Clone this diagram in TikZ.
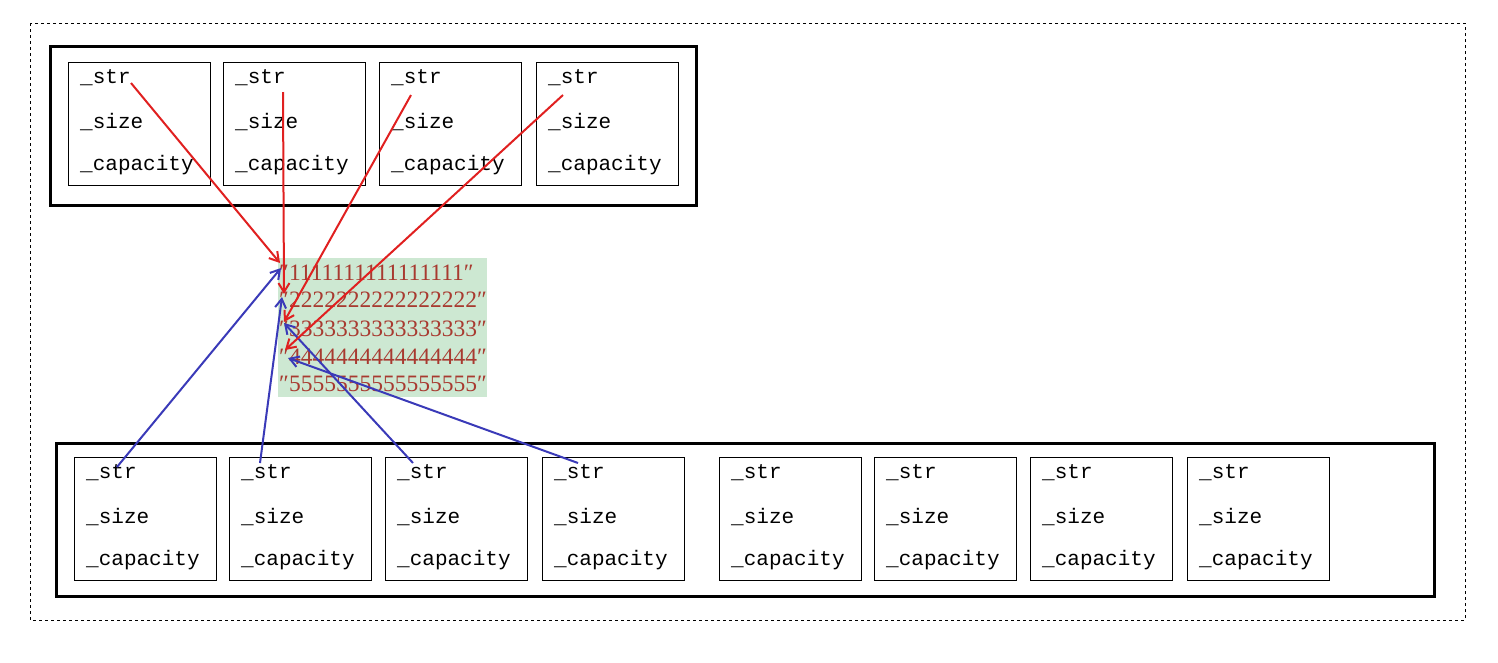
\documentclass[tikz,border=0pt]{standalone}
\usepackage{fontspec}
\setmainfont{Liberation Serif}
\newfontfamily\monof{Liberation Mono}
\usetikzlibrary{arrows.meta}
\definecolor{rd}{HTML}{E02020}
\definecolor{bl}{HTML}{3A3AB8}
\definecolor{gr}{HTML}{CDE8D2}
\definecolor{tx}{HTML}{A83A30}
\begin{document}
\begin{tikzpicture}[x=1pt,y=-1pt,
  cell/.style={draw,line width=1pt,minimum width=142pt,minimum height=123pt,anchor=north west,inner sep=0},
  lbl/.style={anchor=west,font=\monof\fontsize{21}{24}\selectfont,inner sep=0},
  grp/.style={draw,line width=3pt},
  str/.style={anchor=west,font=\fontsize{23.5}{26}\selectfont,text=tx,inner sep=0},
  ra/.style={draw=rd,line width=2pt,-{Straight Barb[length=9pt,width=11pt]}},
  ba/.style={draw=bl,line width=2pt,-{Straight Barb[length=9pt,width=11pt]}}]
\useasboundingbox (0,0) rectangle (1498,662);
\draw[dashed,line width=0.6pt] (30,23) rectangle (1465,620);
\draw[grp] (50,46) rectangle (696,205);
\draw[grp] (56,443) rectangle (1434,596);
\foreach \i/\x in {1/68,2/223,3/379,4/536}{
  \node[cell] (t\i) at (\x,62) {};
  \node[lbl] (ts\i) at (\x+12,78) {\_str};
  \node[lbl] at (\x+12,122) {\_size};
  \node[lbl] at (\x+12,165) {\_capacity};
}
\foreach \i/\x in {1/74,2/229,3/385,4/542,5/719,6/874,7/1030,8/1187}{
  \node[cell] (b\i) at (\x,457) {};
  \node[lbl] (bs\i) at (\x+12,473) {\_str};
  \node[lbl] at (\x+12,517) {\_size};
  \node[lbl] at (\x+12,560) {\_capacity};
}
\fill[gr] (278,258) rectangle (487,397);
\foreach \d/\y in {1/273,2/300,3/329,4/357,5/384}{
  \node[str] (s\d) at (279,\y) {″\d\d\d\d\d\d\d\d\d\d\d\d\d\d\d\d″};
}
\coordinate (r1) at (280,263); \coordinate (r2) at (284,294);
\coordinate (r3) at (284,322); \coordinate (r4) at (285,350);
\coordinate (q1) at (281,268); \coordinate (q2) at (282,297);
\coordinate (q3) at (284,323); \coordinate (q4) at (288,358);
\coordinate (u1) at (131,83); \coordinate (u2) at (283,92);
\coordinate (u3) at (411,95); \coordinate (u4) at (563,95);
\coordinate (v1) at (117,467); \coordinate (v2) at (260,463);
\coordinate (v3) at (413,463); \coordinate (v4) at (578,463);
\foreach \k in {1,...,4}{
  \draw[ra] (u\k) -- (r\k);
  \draw[ba] (v\k) -- (q\k);
}
\end{tikzpicture}
\end{document}
